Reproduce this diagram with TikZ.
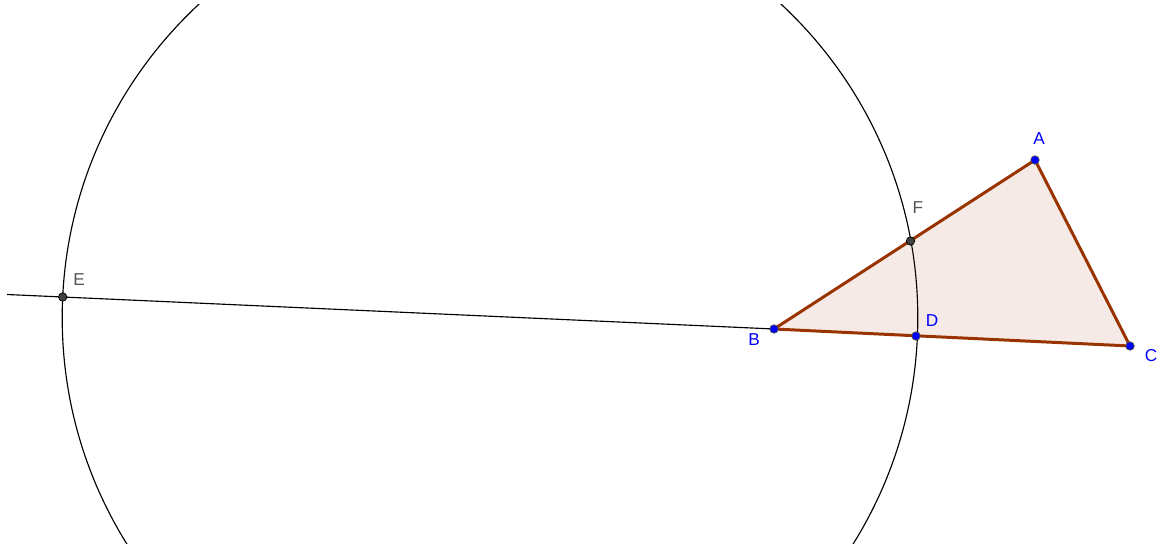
\documentclass[tikz,border=0pt]{standalone}
\usepackage{fontspec}
\setmainfont{Liberation Sans}
\definecolor{polybrown}{RGB}{153,51,0}
\definecolor{ptgrey}{RGB}{64,64,64}
\definecolor{lblgrey}{RGB}{85,85,85}
\tikzset{
  thinline/.style={line width=0.65pt, black},
  edge/.style={line width=1.7pt, polybrown, line join=round},
  bluept/.style={circle, fill=blue, draw=black!70, line width=0.4pt, inner sep=0pt, minimum size=4.8pt},
  greypt/.style={circle, fill=ptgrey, draw=black, line width=0.4pt, inner sep=0pt, minimum size=4.8pt},
  bluelbl/.style={text=blue, font=\fontsize{9.8}{11}\selectfont, inner sep=0pt},
  greylbl/.style={text=lblgrey, font=\fontsize{9.8}{11}\selectfont, inner sep=0pt}
}
\begin{document}
\begin{tikzpicture}[x=0.02cm,y=-0.02cm]
\useasboundingbox (0,0) rectangle (1157,544);
% points
\coordinate (A) at (1035,160);
\coordinate (B) at (774,329);
\coordinate (C) at (1130,346);
\coordinate (D) at (916,336);
\coordinate (E) at (62.7,297);
\coordinate (F) at (910.5,241);
\coordinate (L) at (7,294.5);
\coordinate (O) at (490,317.7);
% circle
\begin{scope}
\clip (0,5) rectangle (1157,544);
\draw[thinline] (O) circle[radius=427.8];
\end{scope}
% line through E and B
\draw[thinline] (L) -- (B) -- (C);
% triangle
\fill[polybrown, opacity=0.1] (A) -- (B) -- (C) -- cycle;
\draw[edge] (A) -- (B) -- (C) -- cycle;
% point marks
\node[greypt] (pE) at (E) {};
\node[greypt] (pF) at (F) {};
\node[bluept] (pA) at (A) {};
\node[bluept] (pB) at (B) {};
\node[bluept] (pC) at (C) {};
\node[bluept] (pD) at (D) {};
% labels
\node[bluelbl] (lA) at (1039,139) {A};
\node[bluelbl] (lB) at (754,340) {B};
\node[bluelbl] (lC) at (1151,356) {C};
\node[bluelbl] (lD) at (932,321) {D};
\node[greylbl] (lE) at (79,280) {E};
\node[greylbl] (lF) at (918,208) {F};
\end{tikzpicture}
\end{document}
